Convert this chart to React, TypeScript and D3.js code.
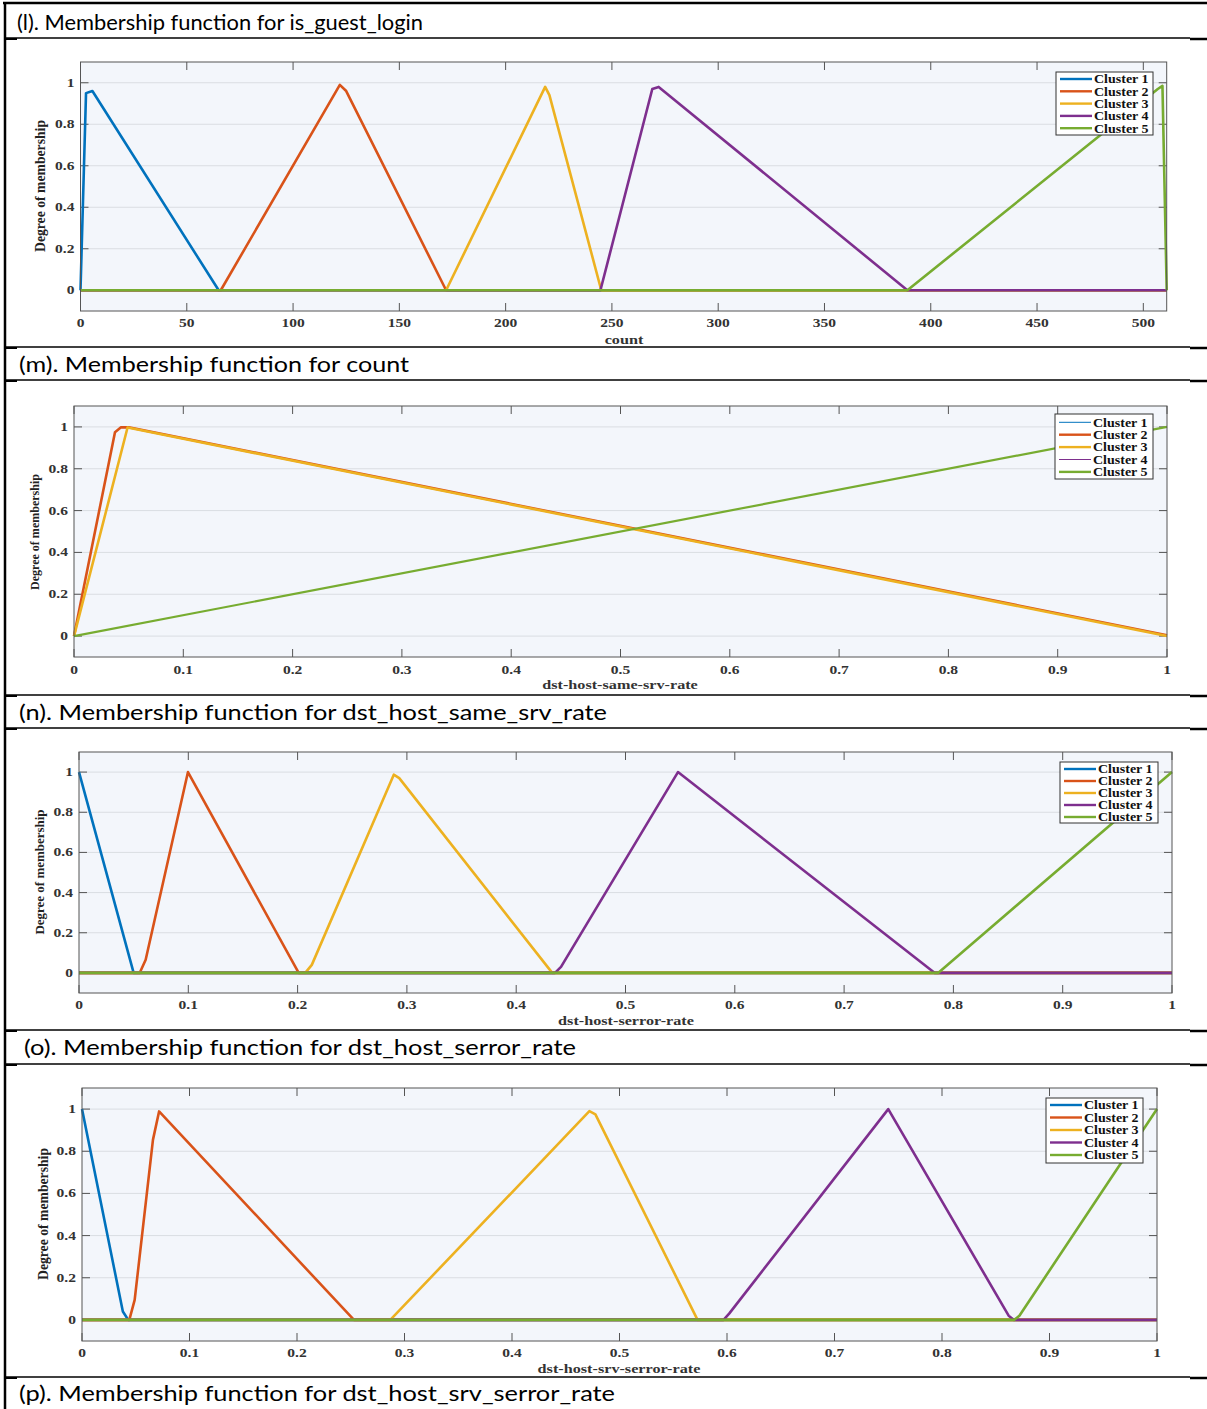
import React from "react";
import * as d3 from "d3";

type P = [number, number];

// ---------- data ----------
const clusterNames = ["Cluster 1", "Cluster 2", "Cluster 3", "Cluster 4", "Cluster 5"];
const clusterColors = ["#0072BD", "#D95319", "#EDB120", "#7E2F8E", "#77AC30"];

const titles = [
  "(l). Membership function for is_guest_login",
  "(m). Membership function for count",
  "(n). Membership function for dst_host_same_srv_rate",
  "(o). Membership function for dst_host_serror_rate",
  "(p). Membership function for dst_host_srv_serror_rate",
];

const xLabels = ["count", "dst-host-same-srv-rate", "dst-host-serror-rate", "dst-host-srv-serror-rate"];
const yLabel = "Degree of membership";
const yTicks = [0, 0.2, 0.4, 0.6, 0.8, 1];
const countTicks = [0, 50, 100, 150, 200, 250, 300, 350, 400, 450, 500];
const rateTicks = [0, 0.1, 0.2, 0.3, 0.4, 0.5, 0.6, 0.7, 0.8, 0.9, 1];

// panel 1: count
const countC1: P[] = [[0, 0], [2.6, 0.95], [5.6, 0.96], [65, 0], [511, 0]];
const countC2: P[] = [[0, 0], [66, 0], [122, 0.99], [125, 0.96], [172, 0], [511, 0]];
const countC3: P[] = [[0, 0], [172, 0], [218.6, 0.98], [220.6, 0.94], [245, 0], [511, 0]];
const countC4: P[] = [[0, 0], [244.6, 0], [269, 0.97], [272, 0.98], [389, 0], [511, 0]];
const countC5: P[] = [[0, 0], [389, 0], [506.8, 0.97], [509, 0.985], [511, 0]];

// panel 2: dst-host-same-srv-rate
const sameC1: P[] = [];
const sameC2: P[] = [[0, 0], [0.0375, 0.975], [0.043, 0.998], [0.05, 0.998], [1, 0.004]];
const sameC3: P[] = [[0, 0], [0.049, 0.997], [1, 0]];
const sameC4: P[] = [];
const sameC5: P[] = [[0, 0], [1, 1]];

// panel 3: dst-host-serror-rate
const serrC1: P[] = [[0, 1], [0.05, 0], [1, 0]];
const serrC2: P[] = [[0, 0], [0.0555, 0], [0.061, 0.066], [0.0997, 1], [0.201, 0], [1, 0]];
const serrC3: P[] = [[0, 0], [0.207, 0], [0.213, 0.04], [0.288, 0.987], [0.293, 0.97], [0.433, 0], [1, 0]];
const serrC4: P[] = [[0, 0], [0.4355, 0], [0.441, 0.03], [0.548, 1], [0.783, 0], [1, 0]];
const serrC5: P[] = [[0, 0], [0.786, 0], [1, 1]];

// panel 4: dst-host-srv-serror-rate
const srvC1: P[] = [[0, 1], [0.038, 0.04], [0.043, 0], [1, 0]];
const srvC2: P[] = [[0, 0], [0.044, 0], [0.049, 0.095], [0.066, 0.854], [0.0717, 0.989], [0.253, 0], [1, 0]];
const srvC3: P[] = [[0, 0], [0.2868, 0], [0.472, 0.99], [0.4776, 0.975], [0.5726, 0], [1, 0]];
const srvC4: P[] = [[0, 0], [0.5968, 0], [0.602, 0.03], [0.75, 1], [0.862, 0.02], [0.867, 0], [1, 0]];
const srvC5: P[] = [[0, 0], [0.867, 0], [0.872, 0.02], [1, 1]];

// ---------- layout ----------
const W = 1207;
const H = 1409;

const panels = [
  {
    series: [countC1, countC2, countC3, countC4, countC5],
    widths: [2.6, 2.6, 2.6, 2.6, 2.6],
    legendWidths: [2.4, 2.4, 2.4, 2.4, 2.4],
    xDomain: [0, 511], xTicks: countTicks, fmt: (v: number) => String(v),
    left: 80.5, right: 1166.7, top: 62, bottom: 311,
    tickBase: 327, xLabelY: 344, xLabelX: 624,
    yLabX: 40, yLabY: 186, yLabLen: 132, yLabSize: 14,
    leg: { x: 1056, y: 72, w: 97, h: 63, row0: 79, step: 12.3 },
  },
  {
    series: [sameC1, sameC2, sameC3, sameC4, sameC5],
    widths: [1, 2.6, 2.6, 1, 2.2],
    legendWidths: [1, 2.4, 2.4, 1, 2.4],
    xDomain: [0, 1], xTicks: rateTicks, fmt: (v: number) => String(v),
    left: 74, right: 1167, top: 406, bottom: 657,
    tickBase: 674, xLabelY: 689, xLabelX: 620,
    yLabX: 35, yLabY: 532, yLabLen: 116, yLabSize: 12.5,
    leg: { x: 1055, y: 414, w: 98, h: 65, row0: 422.3, step: 12.4 },
  },
  {
    series: [serrC1, serrC2, serrC3, serrC4, serrC5],
    widths: [2.6, 2.6, 2.6, 2.6, 2.6],
    legendWidths: [2.4, 2.4, 2.4, 2.4, 2.4],
    xDomain: [0, 1], xTicks: rateTicks, fmt: (v: number) => String(v),
    left: 79, right: 1172, top: 752, bottom: 993,
    tickBase: 1009, xLabelY: 1025, xLabelX: 626,
    yLabX: 39, yLabY: 872, yLabLen: 125, yLabSize: 13.5,
    leg: { x: 1060, y: 762, w: 98, h: 61, row0: 769, step: 12 },
  },
  {
    series: [srvC1, srvC2, srvC3, srvC4, srvC5],
    widths: [2.6, 2.6, 2.6, 2.6, 2.6],
    legendWidths: [2.4, 2.4, 2.4, 2.4, 2.4],
    xDomain: [0, 1], xTicks: rateTicks, fmt: (v: number) => String(v),
    left: 82, right: 1157, top: 1088, bottom: 1341,
    tickBase: 1357, xLabelY: 1373, xLabelX: 619,
    yLabX: 43, yLabY: 1214, yLabLen: 132, yLabSize: 14,
    leg: { x: 1046, y: 1098, w: 97, h: 65, row0: 1105, step: 12.5 },
  },
];

const titleRows = [
  { y: 30, x: 17, len: 406 },
  { y: 372, x: 19, len: 390 },
  { y: 720, x: 19, len: 588 },
  { y: 1055, x: 24, len: 552 },
  { y: 1401, x: 19, len: 596 },
];

const hLines = [38, 347, 380, 695, 728, 1030, 1064, 1377];

const SERIF = "'Liberation Serif', 'DejaVu Serif', serif";
const SANS = "Lato, 'Open Sans', 'Noto Sans', 'Liberation Sans', sans-serif";

function SText({
  x, y, sx, size, anchor, children, fill = "#333",
}: {
  x: number; y: number; sx: number; size: number; anchor: string; children: React.ReactNode; fill?: string;
}) {
  return (
    <g transform={`translate(${x},${y}) scale(${sx},1)`}>
      <text x={0} y={0} textAnchor={anchor as any} fontFamily={SERIF} fontWeight="bold" fontSize={size} fill={fill}>
        {children}
      </text>
    </g>
  );
}

function Panel({ p, idx }: { p: (typeof panels)[number]; idx: number }) {
  const x = d3.scaleLinear().domain(p.xDomain).range([p.left, p.right]);
  const y = d3.scaleLinear().domain([-0.1, 1.1]).range([p.bottom, p.top]);
  const line = d3
    .line<P>()
    .x((d) => x(d[0]))
    .y((d) => y(d[1]));
  const tl = 8;
  return (
    <g>
      <rect x={p.left} y={p.top} width={p.right - p.left} height={p.bottom - p.top} fill="#f3f6fb" />
      {yTicks.map((t) => (
        <line key={"g" + t} x1={p.left} x2={p.right} y1={y(t)} y2={y(t)} stroke="#dadde2" strokeWidth={1} />
      ))}
      {p.xTicks.map((t) => (
        <g key={"xt" + t}>
          <line x1={x(t)} x2={x(t)} y1={p.bottom} y2={p.bottom - tl} stroke="#555" strokeWidth={1} />
          <line x1={x(t)} x2={x(t)} y1={p.top} y2={p.top + tl} stroke="#555" strokeWidth={1} />
          <SText x={x(t)} y={p.tickBase} sx={1.35} size={11.5} anchor="middle">
            {p.fmt(t)}
          </SText>
        </g>
      ))}
      {yTicks.map((t) => (
        <g key={"yt" + t}>
          <line x1={p.left} x2={p.left + tl} y1={y(t)} y2={y(t)} stroke="#555" strokeWidth={1} />
          <line x1={p.right} x2={p.right - tl} y1={y(t)} y2={y(t)} stroke="#555" strokeWidth={1} />
          <SText x={p.left - 6} y={y(t) + 4} sx={1.35} size={11.5} anchor="end">
            {String(t)}
          </SText>
        </g>
      ))}
      {p.series.map((s, i) =>
        s.length ? (
          <path
            key={"s" + i}
            d={line(s) || ""}
            fill="none"
            stroke={clusterColors[i]}
            strokeWidth={p.widths[i]}
            strokeLinejoin="round"
          />
        ) : null
      )}
      <rect
        x={p.left}
        y={p.top}
        width={p.right - p.left}
        height={p.bottom - p.top}
        fill="none"
        stroke="#555"
        strokeWidth={1}
      />
      <SText x={p.xLabelX} y={p.xLabelY} sx={1.35} size={12} anchor="middle">
        {xLabels[idx]}
      </SText>
      <text
        transform={`translate(${p.yLabX},${p.yLabY}) rotate(-90)`}
        textAnchor="middle"
        dominantBaseline="central"
        fontFamily={SERIF}
        fontWeight="bold"
        fontSize={p.yLabSize}
        textLength={p.yLabLen}
        lengthAdjust="spacingAndGlyphs"
        fill="#222"
      >
        {yLabel}
      </text>
      <rect x={p.leg.x} y={p.leg.y} width={p.leg.w} height={p.leg.h} fill="#ffffff" stroke="#333" strokeWidth={1} />
      {clusterNames.map((n, i) => (
        <g key={"l" + i}>
          <line
            x1={p.leg.x + 4}
            x2={p.leg.x + 36}
            y1={p.leg.row0 + i * p.leg.step}
            y2={p.leg.row0 + i * p.leg.step}
            stroke={clusterColors[i]}
            strokeWidth={p.legendWidths[i]}
          />
          <SText x={p.leg.x + 38} y={p.leg.row0 + i * p.leg.step + 4.3} sx={1.12} size={12.5} anchor="start" fill="#111">
            {n}
          </SText>
        </g>
      ))}
    </g>
  );
}

export default function App() {
  return (
    <svg
      width={W}
      height={H}
      viewBox={`0 0 ${W} ${H}`}
      style={{ position: "absolute", left: 0, top: 0, background: "#fff" }}
    >
      <rect x={0} y={0} width={W} height={H} fill="#fff" />
      <line x1={3} x2={W} y1={3} y2={3} stroke="#000" strokeWidth={2.5} />
      <line x1={5} x2={5} y1={2} y2={H} stroke="#000" strokeWidth={2.5} />
      {hLines.map((yy) => (
        <g key={"h" + yy}>
          <line x1={5} x2={1190} y1={yy} y2={yy} stroke="#000" strokeWidth={1.5} />
          <line x1={5} x2={17} y1={yy + 1} y2={yy + 1} stroke="#000" strokeWidth={2} />
          <line x1={1190} x2={W} y1={yy + 1} y2={yy + 1} stroke="#000" strokeWidth={2.5} />
        </g>
      ))}
      {titles.map((t, i) => (
        <text
          key={"t" + i}
          x={titleRows[i].x}
          y={titleRows[i].y}
          fontFamily={SANS}
          fontSize={22}
          textLength={titleRows[i].len}
          lengthAdjust="spacingAndGlyphs"
          fill="#000"
        >
          {t}
        </text>
      ))}
      {panels.map((p, i) => (
        <Panel key={i} p={p} idx={i} />
      ))}
    </svg>
  );
}
